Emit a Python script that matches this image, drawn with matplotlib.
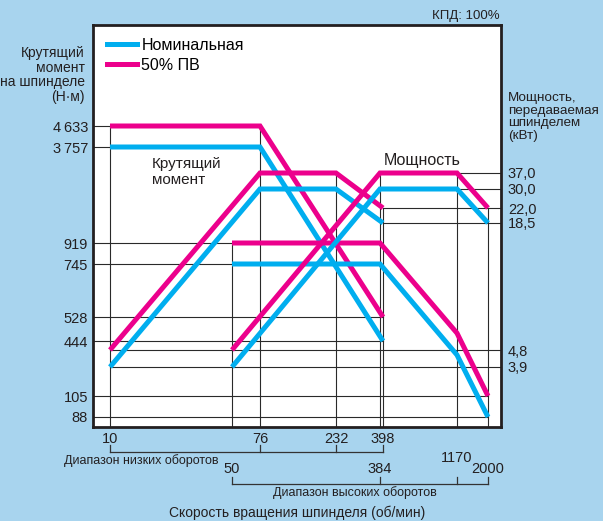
import numpy as np
import matplotlib.pyplot as plt
from matplotlib.lines import Line2D
from matplotlib.ticker import NullLocator
from matplotlib.transforms import blended_transform_factory

plt.rcParams['font.family'] = ['Liberation Sans', 'DejaVu Sans']

# --- data ---
rpm_low = [10, 76, 232, 398]
rpm_high = [50, 384, 1170, 2000]
rpm_low_torque = [10, 76, 398]

torque_low_nom = [3757, 3757, 444]
torque_low_pv = [4633, 4633, 528]
torque_high_nom = [745, 745, 308, 88]
torque_high_pv = [919, 919, 470, 105]

power_low_nom = [3.9, 30.0, 30.0, 18.5]
power_low_pv = [4.8, 37.0, 37.0, 22.0]
power_high_nom = [3.9, 30.0, 30.0, 18.5]
power_high_pv = [4.8, 37.0, 37.0, 22.0]

torque_ticks = [88, 105, 444, 528, 745, 919, 3757, 4633]
torque_labels = ['88', '105', '444', '528', '745', '919', '3\u2009757', '4\u2009633']
torque_grid_end = [2000, 2000, 398, 398, 50, 50, 10, 10]
power_ticks = [3.9, 4.8, 18.5, 22.0, 30.0, 37.0]
power_labels = ['3,9', '4,8', '18,5', '22,0', '30,0', '37,0']
power_grid_start = [10, 10, 398, 398, 1170, 1170]

low_labels = ['10', '76', '232', '398']
high_labels = ['50', '384', '1170', '2000']

BLUE = '#00aeef'
MAGENTA = '#ec008c'
BG = '#a8d4ee'
DARK = '#231f20'

W, H = 603, 521
L, R, T, B = 93, 501, 25, 427


# schematic (non-uniform) scales: piecewise log interpolation between labelled values
def make_scale(vals, px, sign):
    lv = np.log10(vals)
    p = sign * np.asarray(px, float)

    def fwd(v):
        return np.interp(np.log10(np.clip(v, 1e-9, None)), lv, p)

    def inv(q):
        return 10 ** np.interp(q, p, lv)
    return fwd, inv


x_fwd, x_inv = make_scale([5, 10, 50, 76, 232, 384, 398, 1170, 2000, 5000],
                          [57.5, 110, 232, 260, 336, 380, 383, 457, 488, 541], 1)
t_fwd, t_inv = make_scale([50, 88, 105, 444, 528, 745, 919, 3757, 4633, 20000],
                          [484, 417, 396, 341, 317, 264, 243, 147, 126, -20.7], -1)
p_fwd, p_inv = make_scale([1, 3.9, 4.8, 18.5, 22, 30, 37, 1000],
                          [478, 367, 350, 223, 208, 189, 173, -79], -1)

fig = plt.figure(figsize=(W / 100, H / 100), dpi=100, facecolor=BG)
ax = fig.add_axes([L / W, 1 - B / H, (R - L) / W, (B - T) / H])
ax.set_facecolor('white')
ax.set_xscale('function', functions=(x_fwd, x_inv))
ax.set_yscale('function', functions=(t_fwd, t_inv))
ax2 = ax.twinx()
ax2.set_yscale('function', functions=(p_fwd, p_inv))

xl = (x_inv(L), x_inv(R))
tl = (t_inv(-B), t_inv(-T))
pl = (p_inv(-B), p_inv(-T))
ax.set_xlim(xl)
ax.set_ylim(tl)
ax2.set_ylim(pl)

# partial grid lines
gkw = dict(color='#2a2a2a', lw=0.8, zorder=1)
for v, e in zip(torque_ticks, torque_grid_end):
    ax.plot([xl[0], e], [v, v], **gkw)
for v, s in zip(power_ticks, power_grid_start):
    ax.plot([s, xl[1]], [v, v], transform=ax2.transData, **gkw)
for x in [10, 76]:
    ax.plot([x, x], [4633, tl[0]], **gkw)
ax.plot([50, 50], [919, tl[0]], **gkw)
for x in [232, 384, 1170]:
    ax.plot([x, x], [37, pl[0]], transform=ax2.transData, **gkw)
for x in [398, 2000]:
    ax.plot([x, x], [22, pl[0]], transform=ax2.transData, **gkw)

lkw = dict(lw=3.6, solid_joinstyle='miter', solid_capstyle='butt', zorder=3)
ax.plot(rpm_low_torque, torque_low_pv, color=MAGENTA, **lkw)
ax.plot(rpm_low_torque, torque_low_nom, color=BLUE, **lkw)
ax.plot(rpm_high, torque_high_pv, color=MAGENTA, **lkw)
ax.plot(rpm_high, torque_high_nom, color=BLUE, **lkw)
ax2.plot(rpm_low, power_low_pv, color=MAGENTA, **lkw)
ax2.plot(rpm_low, power_low_nom, color=BLUE, **lkw)
ax2.plot(rpm_high, power_high_pv, color=MAGENTA, **lkw)
ax2.plot(rpm_high, power_high_nom, color=BLUE, **lkw)
ax.set_xlim(xl)
ax.set_ylim(tl)
ax2.set_ylim(pl)

# ticks
ax.set_xticks(rpm_low, low_labels)
ax.set_yticks(torque_ticks, torque_labels)
ax2.set_yticks(power_ticks, power_labels)
for a in (ax.xaxis, ax.yaxis, ax2.yaxis):
    a.set_minor_locator(NullLocator())
ax.tick_params(axis='x', length=0, pad=3.5, labelsize=10.5, colors=DARK)
ax.tick_params(axis='y', length=0, pad=3.6, labelsize=10.5, colors=DARK)
ax2.tick_params(axis='y', length=0, pad=5, labelsize=10.5, colors=DARK)
for s in ax.spines.values():
    s.set_color(DARK)
    s.set_linewidth(2)
for s in ax2.spines.values():
    s.set_visible(False)

# legend
handles = [Line2D([], [], color=BLUE, lw=3.6), Line2D([], [], color=MAGENTA, lw=3.6)]
ax2.legend(handles, ['Номинальная', '50% ПВ'], loc='upper left',
           bbox_to_anchor=((107 - L) / (R - L), (B - 38) / (B - T)),
           frameon=False, fontsize=11.5, handlelength=1.9, handletextpad=0.25,
           labelspacing=0.3, borderpad=0, borderaxespad=0)


# range brackets below the plot
def fy(p):
    return 1 - p / H


tr = blended_transform_factory(ax.transData, fig.transFigure)
bkw = dict(color='#333333', lw=0.9, transform=tr, clip_on=False)
ax.plot([rpm_low[0], rpm_low[-1]], [fy(452), fy(452)], **bkw)
for r in rpm_low:
    ax.plot([r, r], [fy(452), fy(445)], **bkw)
ax.plot([rpm_high[0], rpm_high[-1]], [fy(484), fy(484)], **bkw)
for r in rpm_high:
    ax.plot([r, r], [fy(484), fy(477)], **bkw)
for r, lab in zip(rpm_high, high_labels):
    yy = fy(458) if r == 1170 else fy(469)
    ax.text(r, yy, lab, transform=tr, ha='center', va='center',
            fontsize=10.5, color=DARK)

fig.text(141 / W, fy(461), 'Диапазон низких оборотов', ha='center', va='center',
         fontsize=9, color=DARK)
fig.text(355 / W, fy(493), 'Диапазон высоких оборотов', ha='center', va='center',
         fontsize=9, color=DARK)
fig.text(297 / W, fy(513), 'Скорость вращения шпинделя (об/мин)', ha='center',
         va='center', fontsize=10, color=DARK)

fig.text(85 / W, fy(75), 'Крутящий\nмомент\nна шпинделе\n(Н·м)', ha='right',
         va='center', ma='right', fontsize=10, linespacing=1.08, color=DARK)
fig.text(508 / W, fy(117), 'Мощность,\nпередаваемая\nшпинделем\n(кВт)', ha='left',
         va='center', fontsize=9.7, linespacing=1.1, color=DARK)
fig.text(500 / W, fy(16), 'КПД: 100%', ha='right', va='center', fontsize=9.5,
         color=DARK)
fig.text(152 / W, fy(172), 'Крутящий\nмомент', ha='left', va='center',
         fontsize=11, linespacing=1.1, color=DARK)
fig.text(422 / W, fy(160), 'Мощность', ha='center', va='center', fontsize=11.5,
         color=DARK)

fig.savefig('out.png', dpi=100, facecolor=BG)
